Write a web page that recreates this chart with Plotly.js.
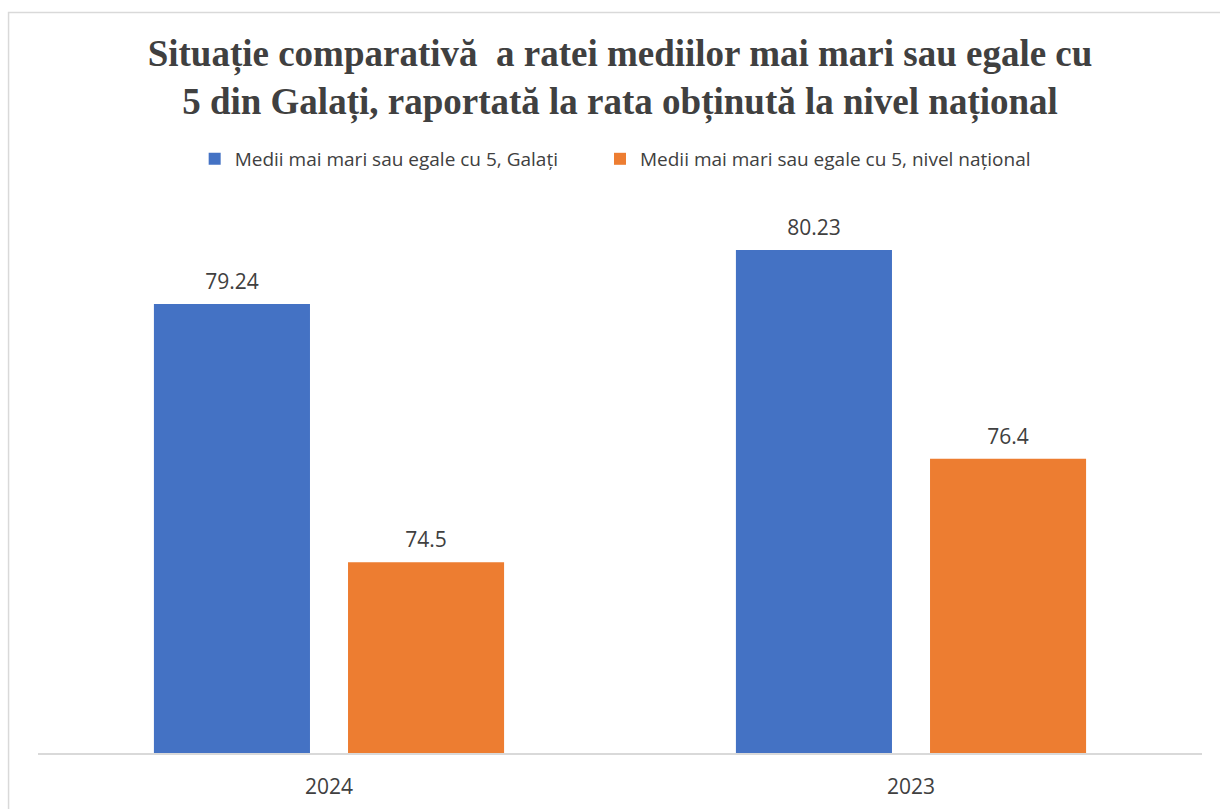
<!DOCTYPE html>
<html>
<head>
<meta charset="utf-8">
<script src="https://cdn.plot.ly/plotly-3.0.1.min.js"></script>
<style>
  body { margin: 0; overflow: hidden; background: #fff; }
  #plot { width: 1220px; height: 809px; }
</style>
</head>
<body>
<div id="plot"></div>
<script>
// years on the x axis and the two series
let years = ["2024", "2023"];
let galati = [79.24, 80.23];      // Medii >= 5, Galați
let national = [74.5, 76.4];      // Medii >= 5, nivel național
let seriesNames = ["Medii mai mari sau egale cu 5, Galați", "Medii mai mari sau egale cu 5, nivel național"];
let colors = ['#4472C4', '#ED7D31'];

let labelFont = { family: "Open Sans, sans-serif", size: 21, color: "#404040" };
let legendFont = { family: "Open Sans, sans-serif", size: 19, color: "#404040" };

// bars, each series in its own legend so the entries can be spaced like the original
let bars = [galati, national].map((vals, i) => ({
    x: years,
    y: vals,
    name: seriesNames[i],
    type: 'bar',
    offsetgroup: 'g' + i,
    legend: i === 0 ? 'legend' : 'legend2',
    marker: { color: colors[i] }
}));

// value labels, sitting a bit above each bar (invisible markers give the gap)
let labels = [galati, national].map((vals, i) => ({
    x: years,
    y: vals,
    type: 'scatter',
    mode: 'markers+text',
    offsetgroup: 'g' + i,
    text: vals.map(String),
    textposition: 'top center',
    textfont: labelFont,
    marker: { size: 14, color: 'rgba(0,0,0,0)' },
    showlegend: false,
    cliponaxis: false,
    hoverinfo: 'skip'
}));

let layout = {
    width: 1220,
    height: 809,
    margin: { l: 38, r: 18, t: 208, b: 56 },
    paper_bgcolor: '#ffffff',
    plot_bgcolor: '#ffffff',
    title: {
        text: "Situație comparativă  a ratei mediilor mai mari sau egale cu<br>5 din Galați, raportată la rata obținută la nivel național",
        font: { family: "Liberation Serif, Times New Roman, serif", size: 37, color: "#404040", weight: 700 },
        xref: 'paper', x: 0.5, xanchor: 'center',
        yref: 'container', y: 0.918, yanchor: 'top'
    },
    barmode: 'group',
    scattermode: 'group',
    bargap: 0.333,
    scattergap: 0.333,
    bargroupgap: 0.196,
    showlegend: true,
    legend: {
        orientation: 'h',
        x: 0.1346, xanchor: 'left',
        y: 1.09, yanchor: 'middle',
        font: legendFont
    },
    legend2: {
        orientation: 'h',
        x: 0.4828, xanchor: 'left',
        y: 1.09, yanchor: 'middle',
        font: legendFont
    },
    xaxis: {
        type: 'category',
        showline: true,
        linecolor: '#d9d9d9',
        linewidth: 1.5,
        ticks: '',
        showgrid: false,
        tickfont: labelFont,
        ticklabelstandoff: 14
    },
    yaxis: {
        range: [71, 81],
        visible: false,
        showgrid: false,
        zeroline: false
    },
    shapes: [{
        type: 'rect',
        xref: 'paper', yref: 'paper',
        x0: -0.0253, x1: 1.02, y0: -0.15, y1: 1.3587,
        line: { color: '#d9d9d9', width: 1.5 },
        fillcolor: 'rgba(0,0,0,0)',
        layer: 'below'
    }]
};

Plotly.newPlot("plot", bars.concat(labels), layout, { displayModeBar: false, staticPlot: true });
</script>
</body>
</html>
